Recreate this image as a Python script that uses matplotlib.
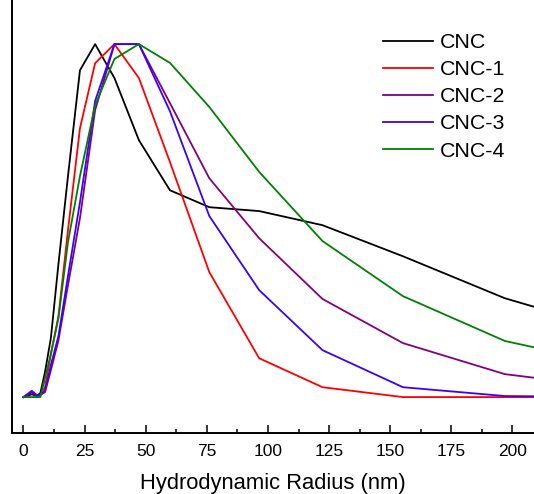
import numpy as np
import matplotlib
matplotlib.use("Agg")
import matplotlib.pyplot as plt
from matplotlib.ticker import MultipleLocator

plt.rcParams['font.family'] = ['Liberation Sans', 'DejaVu Sans']

# hydrodynamic radius bins (nm)
radius = [0, 3.4, 5.4, 6.9, 8.8, 11.2, 14.3, 18.2, 23.1, 29.3, 37.2, 47.2,
          59.9, 76, 96.4, 122.3, 155.2, 196.9, 249.8]

# normalized intensity (%)
cnc = [0, 0.8, 0.3, 1.1, 7.1, 16.7, 37.7, 62.6, 92.6, 100, 90.4, 72.8,
       58.6, 53.8, 52.7, 48.7, 39.9, 28.0, 17.3]
cnc1 = [0, 1.4, 0.3, 0.6, 2.8, 12.2, 22.9, 47.3, 76.2, 94.6, 100, 90.4,
        66.6, 35.4, 11.0, 2.8, 0, 0, 0]
cnc2 = [0, 1.8, 0.6, 0.6, 1.4, 7.6, 16.1, 31.7, 50.7, 81.3, 100, 100,
        83.3, 62.0, 45.0, 27.8, 15.3, 6.5, 2.0]
cnc3 = [0, 1.4, 0.4, 0.6, 1.7, 9.1, 17.3, 34.3, 55.2, 83.9, 100, 100,
        81.0, 51.3, 30.3, 13.3, 2.8, 0.3, 0]
cnc4 = [0, 0, 0, 0, 5.4, 12.2, 22.4, 43.9, 62.6, 82.7, 95.8, 100,
        94.7, 82.2, 63.8, 44.2, 28.6, 15.9, 7.9]

labels = ['CNC', 'CNC-1', 'CNC-2', 'CNC-3', 'CNC-4']
colors = ['black', '#ff0000', '#800080', '#3a00ff', '#008000']

fig = plt.figure(figsize=(5.34, 4.94), dpi=100)
ax = fig.add_axes([0.022, 0.124, 0.978, 0.876])

for y, lab, c in zip([cnc, cnc1, cnc2, cnc3, cnc4], labels, colors):
    ax.plot(radius, y, color=c, lw=1.3, label=lab)

ax.set_xlim(-4.8, 208.8)
ax.set_ylim(-10.1, 112.5)
ax.xaxis.set_major_locator(MultipleLocator(25))
ax.xaxis.set_minor_locator(MultipleLocator(12.5))
ax.set_yticks([])
ax.tick_params(axis='x', which='major', direction='in', length=5.5, width=1.1,
               labelsize=12.5, pad=8)
ax.tick_params(axis='x', which='minor', direction='in', length=3, width=1.1)
ax.spines['top'].set_visible(False)
ax.spines['right'].set_visible(False)
ax.spines['left'].set_linewidth(1.4)
ax.spines['bottom'].set_linewidth(1.4)
ax.set_xlabel('Hydrodynamic Radius (nm)', fontsize=15.8, labelpad=10)

ax.legend(loc='upper left', bbox_to_anchor=(383 / 534, 1 - 33 / 494),
          bbox_transform=fig.transFigure, frameon=False, fontsize=15.4,
          handlelength=2.34, handletextpad=0.3, labelspacing=0.38,
          borderpad=0, borderaxespad=0)

fig.savefig('out.png', dpi=100)
